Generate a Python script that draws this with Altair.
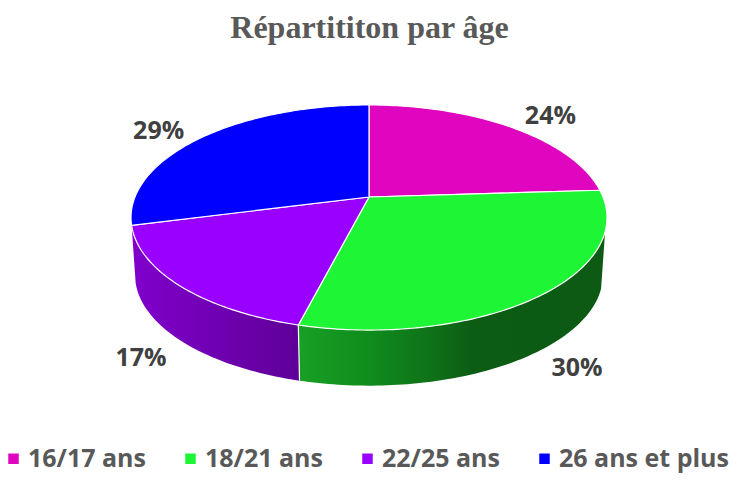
import math
import altair as alt

TITLE = "Répartititon par âge"
ages = ["16/17 ans", "18/21 ans", "22/25 ans", "26 ans et plus"]
shares = [24, 30, 17, 29]
share_labels = ["24%", "30%", "17%", "29%"]
colors = ["#E005BE", "#1EF535", "#9900FF", "#0000FF"]

# Layout of the tilted disc (page pixels)
CX, K = 369.0, 0.1823
TOP = dict(cy=197.0, a=234.0, b=108.8)
BASE = dict(cy=254.8, a=230.0, b=107.0)
RIM_START_DEG = 107.5
LABEL_NUDGE = [(40, -11), (34.5, 73.5), (-38, 73), (-44, -6)]
W, H = 725, 465
PROJ = dict(type="identity", scale=1, translate=[-8, -8])


def project(deg, disc, r=1.0):
    t = math.radians(deg)
    u, v = r * math.sin(t), -r * math.cos(t)
    d = 1 - K * v
    return [CX + disc["a"] * u / d, disc["cy"] + disc["b"] * v / d]


def arc(start, end, disc, step=1.0):
    n = max(2, int(abs(end - start) / step))
    return [project(start + (end - start) * i / n, disc) for i in range(n + 1)]


def feature(coords, kind="Polygon", **props):
    return {"type": "Feature", "properties": props,
            "geometry": {"type": kind, "coordinates": coords}}


total = sum(shares)
edges = [0.0]
for s in shares:
    edges.append(edges[-1] + 360.0 * s / total)

apex = [CX, TOP["cy"]]
top_features = []
for i, age in enumerate(ages):
    ring = [apex] + arc(edges[i], edges[i + 1], TOP) + [apex]
    top_features.append(feature([ring], age=age))


def wall(start, end):
    upper = arc(start, end, TOP)
    lower = arc(start, end, BASE)
    ring = upper + lower[::-1] + [upper[0]]
    return [feature([ring])]


green_wall = wall(RIM_START_DEG, edges[2])
purple_wall = wall(edges[2], edges[3])
seam = [feature([project(edges[2], TOP), project(edges[2], BASE)], kind="LineString")]

label_rows = []
for i, lab in enumerate(share_labels):
    x, y = project((edges[i] + edges[i + 1]) / 2, TOP)
    label_rows.append({"lab": lab, "lon": x + LABEL_NUDGE[i][0], "lat": y + LABEL_NUDGE[i][1]})


def gradient(stops):
    return alt.LinearGradient(
        gradient="linear", x1=0, x2=1, y1=0, y2=0,
        stops=[alt.GradientStop(offset=o, color=c) for o, c in stops],
    )


# Green darkens towards the right, so the stops run from bright at the left edge
green_layer = alt.Chart(alt.Data(values=green_wall)).mark_geoshape(
    fill=gradient([(0, "#18A024"), (0.25, "#0F8A1C"), (0.45, "#0F6F18"), (0.57, "#0C5C14"), (1, "#0C5A14")]),
    strokeWidth=0,
).project(**PROJ)

purple_layer = alt.Chart(alt.Data(values=purple_wall)).mark_geoshape(
    fill=gradient([(0, "#8000CC"), (1, "#5F0098")]),
    strokeWidth=0,
).project(**PROJ)

seam_layer = alt.Chart(alt.Data(values=seam)).mark_geoshape(
    filled=False, stroke="white", strokeWidth=1.2,
).project(**PROJ)

top_layer = alt.Chart(alt.Data(values=top_features)).mark_geoshape(
    stroke="white", strokeWidth=1.2,
).encode(
    color=alt.Color(
        "properties.age:N",
        scale=alt.Scale(domain=ages, range=colors),
        sort=ages,
        legend=alt.Legend(
            title=None, orient="none", legendX=-7, legendY=438, direction="horizontal",
            columns=4, columnPadding=32, symbolType="square", symbolSize=110,
            symbolStrokeWidth=0, labelFont="Open Sans", labelFontSize=25,
            labelFontWeight="bold", labelColor="#595959", labelOffset=2,
            padding=0, labelLimit=300,
        ),
    )
).project(**PROJ)

label_layer = alt.Chart(alt.Data(values=label_rows)).mark_text(
    font="Open Sans", fontSize=25, fontWeight="bold", color="#404040",
    align="center", baseline="middle",
).encode(longitude="lon:Q", latitude="lat:Q", text="lab:N").project(**PROJ)

chart = (green_layer + purple_layer + seam_layer + top_layer + label_layer).properties(
    width=W, height=H, padding=0,
    autosize=alt.AutoSizeParams(type="none"),
    title=alt.TitleParams(
        TITLE, font="Liberation Serif", fontSize=32, fontWeight="bold",
        color="#595959", anchor="middle", offset=-37, dx=-1,
    ),
).configure_view(stroke=None)

chart.save("out.html", embed_options={"renderer": "svg", "actions": False})
